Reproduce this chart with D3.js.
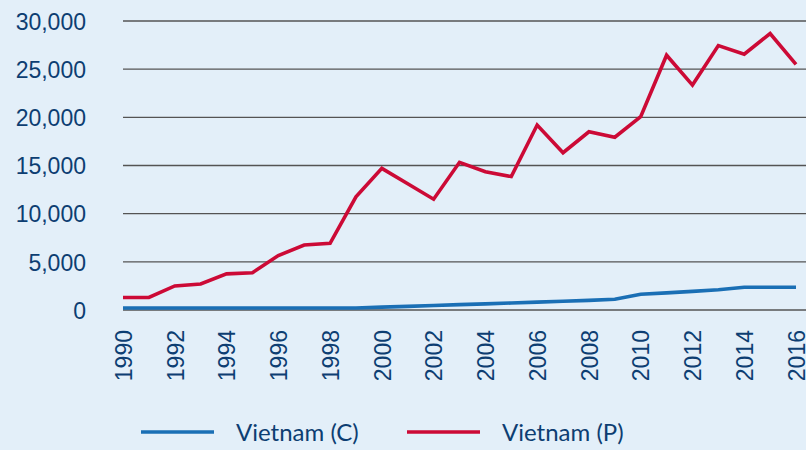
<!DOCTYPE html>
<html>
<head>
<meta charset="utf-8">
<script src="https://cdn.jsdelivr.net/npm/d3@7"></script>
<style>
  html, body { margin: 0; padding: 0; background: #e3eff9; }
  svg { display: block; font-family: Lato, "Open Sans", sans-serif; }
</style>
</head>
<body>
<svg id="chart"></svg>
<script>
// data
const years = d3.range(1990, 2017);
const vietnamC = [200, 200, 200, 200, 200, 200, 200, 200, 200, 200,
  300, 380, 470, 560, 640, 730, 820, 910, 1000, 1110,
  1630, 1780, 1930, 2100, 2360, 2360, 2360];
const vietnamP = [1300, 1300, 2500, 2700, 3750, 3870, 5650, 6750, 6920, 11750,
  14700, 13100, 11500, 15330, 14350, 13850, 19200, 16330, 18500, 17930,
  20070, 26450, 23350, 27450, 26550, 28700, 25500];
const yTicks = [0, 5000, 10000, 15000, 20000, 25000, 30000];
const xTicks = d3.range(1990, 2017, 2);
const seriesNames = ["Vietnam (C)", "Vietnam (P)"];
const seriesColors = ["#1a6fb5", "#cc0a36"];

const [w, h] = [806, 450];
const textColor = "#0d3e72";

const svg = d3.select("#chart").attr("width", w).attr("height", h);

//scales
const x = d3.scaleLinear().domain([1990, 2016]).range([123, 796]);
const y = d3.scaleLinear().domain([0, 30000]).range([310, 21]);

//gridlines
svg.append("g").selectAll("line").data(yTicks).enter().append("line")
  .attr("x1", 123).attr("x2", w)
  .attr("y1", d => y(d)).attr("y2", d => y(d))
  .attr("stroke", "#545454").attr("stroke-width", 1.3);

//y axis labels
const yAxis = d3.axisLeft(y).tickValues(yTicks).tickFormat(d3.format(",")).tickSize(0).tickPadding(0);
const gy = svg.append("g").attr("transform", "translate(86,0)").call(yAxis);
gy.select(".domain").remove();
gy.selectAll("text").attr("fill", textColor).style("font-size", "23px").attr("dy", "0.36em");

//x axis labels
const xAxis = d3.axisBottom(x).tickValues(xTicks).tickFormat(d3.format("d")).tickSize(0);
const gx = svg.append("g").attr("transform", "translate(0,330)").call(xAxis);
gx.select(".domain").remove();
gx.selectAll("text")
  .attr("fill", textColor).style("font-size", "23px")
  .attr("text-anchor", "end")
  .attr("transform", "rotate(-90)")
  .attr("x", 0).attr("y", 0).attr("dy", "0.36em");

//lines
const line = d3.line().x((d, i) => x(years[i])).y(d => y(d));
[vietnamC, vietnamP].forEach((s, k) => {
  svg.append("path").datum(s)
    .attr("fill", "none")
    .attr("stroke", seriesColors[k])
    .attr("stroke-width", 3.6)
    .attr("stroke-linejoin", "miter")
    .attr("d", line);
});

//legend
const legend = svg.append("g").selectAll("g").data(seriesNames).enter().append("g")
  .attr("transform", (d, i) => `translate(${141 + i * 266},432)`);
legend.append("line").attr("x1", 0).attr("x2", 73)
  .attr("stroke", (d, i) => seriesColors[i]).attr("stroke-width", 3.6);
legend.append("text").attr("x", 95).attr("dy", "0.36em")
  .attr("fill", textColor).style("font-size", "24px")
  .text(d => d);
</script>
</body>
</html>
